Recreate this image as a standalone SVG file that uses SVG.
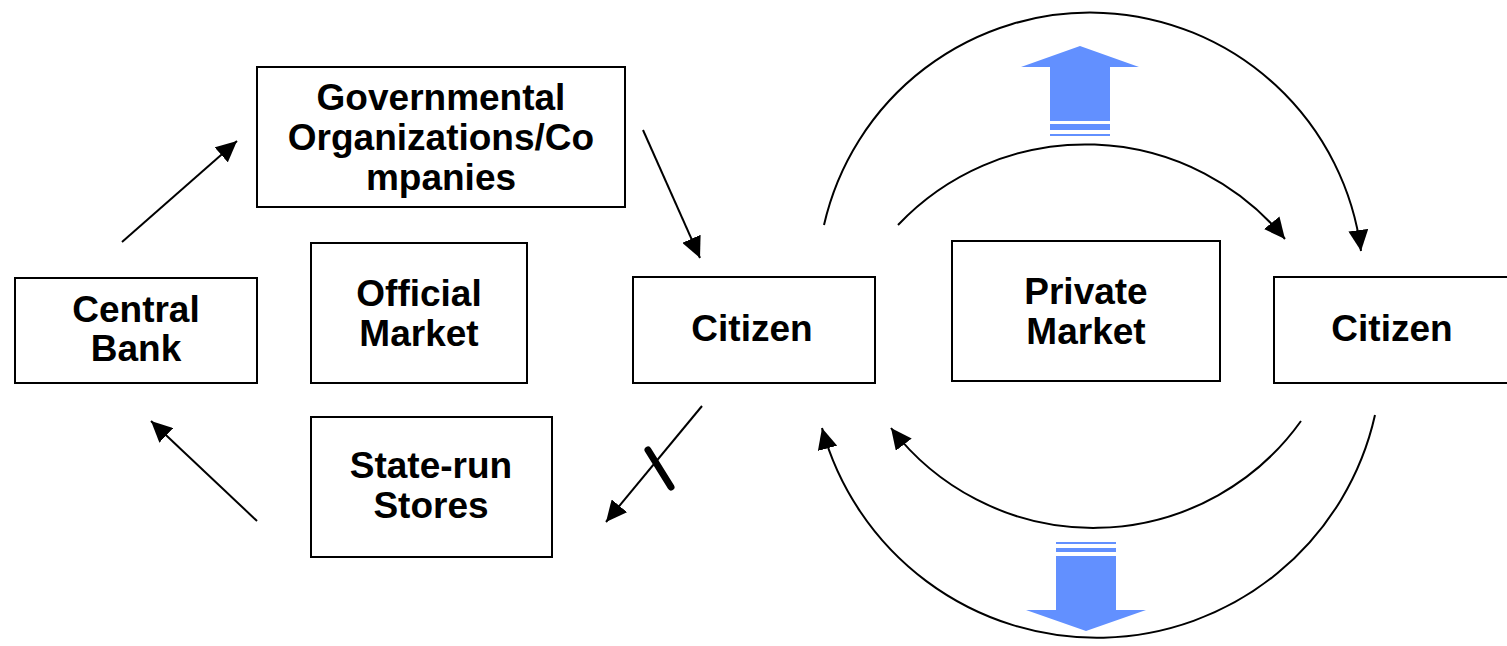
<svg xmlns="http://www.w3.org/2000/svg" width="1507" height="646" viewBox="0 0 1507 646">
  <style>
    .box { fill: #ffffff; stroke: #000000; stroke-width: 2; }
    .lbl { font-family: "Liberation Sans", Arial, sans-serif; font-weight: bold; font-size: 37px; fill: #000000; text-anchor: middle; }
    .conn { fill: none; stroke: #000000; stroke-width: 2; marker-end: url(#ah); }
    .bar { stroke: #000000; stroke-width: 7; stroke-linecap: round; }
    .big { fill: #6290ff; }
  </style>
  <defs>
    <marker id="ah" markerUnits="userSpaceOnUse" markerWidth="21" markerHeight="20" refX="21" refY="10" orient="auto">
      <path d="M0,0 L21,10 L0,20 z" fill="#000000"/>
    </marker>
  </defs>
  <rect width="1507" height="646" fill="#ffffff"/>

  <g id="connectors">
    <!-- straight flows around the official market -->
    <line class="conn" x1="122" y1="242" x2="237" y2="141"/>
    <line class="conn" x1="643" y1="130" x2="700" y2="258"/>
    <line class="conn" x1="702" y1="406" x2="606" y2="522"/>
    <line class="bar" x1="648" y1="450" x2="671" y2="487"/>
    <line class="conn" x1="257" y1="521" x2="151" y2="421"/>
    <!-- curved flows around the private market -->
    <path class="conn" d="M824,225 A273,273 0 0,1 1361,251"/>
    <path class="conn" d="M898,225 A258,258 0 0,1 1285,239"/>
    <path class="conn" d="M1301,421 A255,255 0 0,1 891,428"/>
    <path class="conn" d="M1375,415 A285,285 0 0,1 822,428"/>
  </g>

  <g id="arrow-up">
    <polygon class="big" points="1080,46 1139,67 1110,67 1110,121 1050,121 1050,67 1021,67"/>
    <rect class="big" x="1050" y="124" width="60" height="6"/>
    <rect class="big" x="1050" y="134" width="60" height="2"/>
  </g>
  <g id="arrow-down">
    <rect class="big" x="1056" y="542" width="60" height="2"/>
    <rect class="big" x="1056" y="548" width="60" height="4"/>
    <polygon class="big" points="1056,556 1116,556 1116,610 1146,610 1086,631 1026,610 1056,610"/>
  </g>

  <g id="governmental">
    <rect class="box" x="257" y="67" width="368" height="140"/>
    <text class="lbl" x="441" y="110">Governmental</text>
    <text class="lbl" x="441" y="150">Organizations/Co</text>
    <text class="lbl" x="441" y="190">mpanies</text>
  </g>
  <g id="central-bank">
    <rect class="box" x="15" y="278" width="242" height="105"/>
    <text class="lbl" x="136" y="322">Central</text>
    <text class="lbl" x="136" y="361">Bank</text>
  </g>
  <g id="official-market">
    <rect class="box" x="311" y="243" width="216" height="140"/>
    <text class="lbl" x="419" y="306">Official</text>
    <text class="lbl" x="419" y="346">Market</text>
  </g>
  <g id="state-run-stores">
    <rect class="box" x="311" y="417" width="241" height="140"/>
    <text class="lbl" x="431" y="478">State-run</text>
    <text class="lbl" x="431" y="518">Stores</text>
  </g>
  <g id="citizen-left">
    <rect class="box" x="633" y="277" width="242" height="106"/>
    <text class="lbl" x="752" y="341">Citizen</text>
  </g>
  <g id="private-market">
    <rect class="box" x="952" y="241" width="268" height="140"/>
    <text class="lbl" x="1086" y="304">Private</text>
    <text class="lbl" x="1086" y="344">Market</text>
  </g>
  <g id="citizen-right">
    <rect class="box" x="1274" y="277" width="240" height="106"/>
    <text class="lbl" x="1392" y="341">Citizen</text>
  </g>
</svg>
